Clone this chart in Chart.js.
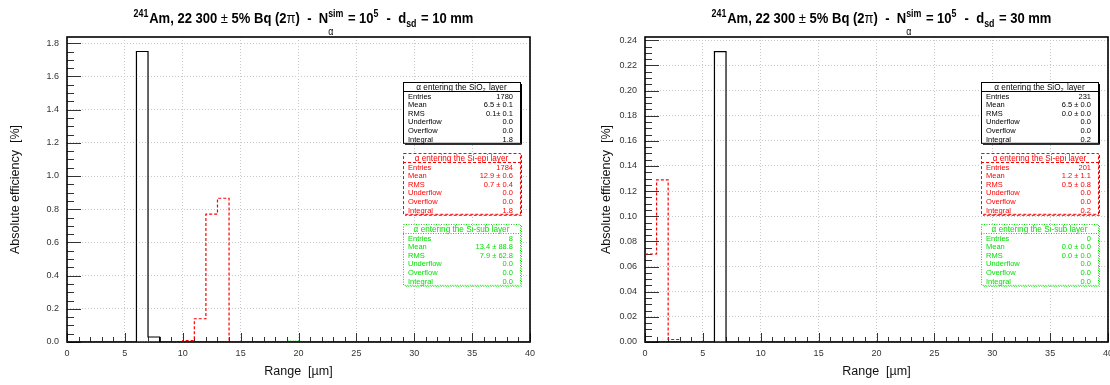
<!DOCTYPE html>
<html>
<head>
<meta charset="utf-8">
<script src="https://cdn.jsdelivr.net/npm/chart.js@4.4.1/dist/chart.umd.min.js"></script>
<style>
  html, body { margin: 0; padding: 0; background: #fff; }
  #wrap { position: relative; width: 1110px; height: 385px; }
  .pad { position: absolute; top: 0; width: 555px; height: 385px; }
</style>
</head>
<body>
<div id="wrap">
  <div class="pad" style="left:0"><canvas id="near" width="555" height="385"></canvas></div>
  <div class="pad" style="left:555px"><canvas id="far" width="555" height="385"></canvas></div>
</div>
<script>
// Bin edges of the range histograms [um], 1 um bins
const rangeEdges = [0, 1, 2, 3, 4, 5, 6, 7, 8, 9, 10, 11, 12, 13, 14, 15, 16, 17, 18, 19, 20,
  21, 22, 23, 24, 25, 26, 27, 28, 29, 30, 31, 32, 33, 34, 35, 36, 37, 38, 39, 40]
const xTicks = [0, 5, 10, 15, 20, 25, 30, 35, 40]
const statLabels = ['Entries', 'Mean', 'RMS', 'Underflow', 'Overflow', 'Integral']

// d_sd = 10 mm
const sio2Near = [0, 0, 0, 0, 0, 0, 1.75, 0.03, 0, 0, 0, 0, 0, 0, 0, 0, 0, 0, 0, 0,
  0, 0, 0, 0, 0, 0, 0, 0, 0, 0, 0, 0, 0, 0, 0, 0, 0, 0, 0, 0]
const epiNear = [0, 0, 0, 0, 0, 0, 0, 0, 0, 0, 0.008, 0.14, 0.77, 0.866, 0, 0, 0, 0, 0, 0,
  0, 0, 0, 0, 0, 0, 0, 0, 0, 0, 0, 0, 0, 0, 0, 0, 0, 0, 0, 0]
const subNear = [0, 0, 0, 0, 0, 0, 0.002, 0, 0, 0, 0, 0, 0, 0, 0, 0, 0, 0, 0, 0.006,
  0, 0, 0, 0, 0, 0, 0, 0, 0, 0, 0, 0, 0, 0, 0, 0, 0, 0, 0, 0]
const yTicksNear = [0, 0.2, 0.4, 0.6, 0.8, 1.0, 1.2, 1.4, 1.6, 1.8]
const sio2NearStats = ['1780', '6.5 ± 0.1', '0.1± 0.1', '0.0', '0.0', '1.8']
const epiNearStats = ['1784', '12.9 ± 0.6', '0.7 ± 0.4', '0.0', '0.0', '1.8']
const subNearStats = ['8', '13.4 ± 88.8', '7.9 ± 62.8', '0.0', '0.0', '0.0']

// d_sd = 30 mm
const sio2Far = [0, 0, 0, 0, 0, 0, 0.231, 0, 0, 0, 0, 0, 0, 0, 0, 0, 0, 0, 0, 0,
  0, 0, 0, 0, 0, 0, 0, 0, 0, 0, 0, 0, 0, 0, 0, 0, 0, 0, 0, 0]
const epiFar = [0.070, 0.129, 0.002, 0, 0, 0, 0, 0, 0, 0, 0, 0, 0, 0, 0, 0, 0, 0, 0, 0,
  0, 0, 0, 0, 0, 0, 0, 0, 0, 0, 0, 0, 0, 0, 0, 0, 0, 0, 0, 0]
const subFar = [0, 0, 0, 0, 0, 0, 0, 0, 0, 0, 0, 0, 0, 0, 0, 0, 0, 0, 0, 0,
  0, 0, 0, 0, 0, 0, 0, 0, 0, 0, 0, 0, 0, 0, 0, 0, 0, 0, 0, 0]
const yTicksFar = [0, 0.02, 0.04, 0.06, 0.08, 0.10, 0.12, 0.14, 0.16, 0.18, 0.20, 0.22, 0.24]
const sio2FarStats = ['231', '6.5 ± 0.0', '0.0 ± 0.0', '0.0', '0.0', '0.2']
const epiFarStats = ['201', '1.2 ± 1.1', '0.5 ± 0.8', '0.0', '0.0', '0.2']
const subFarStats = ['0', '0.0 ± 0.0', '0.0 ± 0.0', '0.0', '0.0', '0.0']

const FONT = "'Liberation Sans', Arial, Helvetica, sans-serif"
const RED = '#ff0000'
const GREEN = '#00e000'

// histogram outline: one point per bin low edge, last edge closes the step
function histPoints (vals) {
  return rangeEdges.map((x, i) => ({ x: x, y: vals[Math.min(i, vals.length - 1)] }))
}

// rich text: runs of {t, bold, sup, sub, supsub}
function drawRich (ctx, runs, cx, base, size) {
  const small = size * 0.68
  const fontOf = (s, b) => (b ? 'bold ' : '') + s + 'px ' + FONT
  const widthOf = r => {
    if (r.supsub) {
      ctx.font = fontOf(small, true)
      const a = ctx.measureText(r.supsub[0]).width
      ctx.font = fontOf(small, false)
      const b = ctx.measureText(r.supsub[1]).width
      return Math.max(a, b) + 1
    }
    ctx.font = fontOf(r.sup || r.sub ? small : size, r.bold)
    return ctx.measureText(r.t).width + (r.sup || r.sub ? 1 : 0)
  }
  const total = runs.reduce((s, r) => s + widthOf(r), 0)
  let x = cx - total / 2
  ctx.textAlign = 'left'
  ctx.textBaseline = 'alphabetic'
  runs.forEach(r => {
    const w = widthOf(r)
    if (r.supsub) {
      ctx.font = fontOf(small, true)
      ctx.fillText(r.supsub[0], x, base - size * 0.42)
      ctx.font = fontOf(small, false)
      ctx.fillText(r.supsub[1], x, base + size * 0.8)
    } else {
      ctx.font = fontOf(r.sup || r.sub ? small : size, r.bold)
      const dy = r.sup ? -size * 0.42 : (r.sub ? size * 0.3 : 0)
      ctx.fillText(r.t, x, base + dy)
    }
    x += w
  })
}

function titleRuns (dist) {
  return [
    { t: '241', bold: true, sup: true },
    { t: 'Am, 22 300', bold: true },
    { t: ' \u00b1 ', bold: false },
    { t: '5% Bq (2', bold: true },
    { t: '\u03c0', bold: false },
    { t: ')  -  N', bold: true },
    { supsub: ['sim', '\u03b1'] },
    { t: ' = 10', bold: true },
    { t: '5', bold: true, sup: true },
    { t: '  -  d', bold: true },
    { t: 'sd', bold: true, sub: true },
    { t: ' = ' + dist + ' mm', bold: true }
  ]
}

function drawStatBox (ctx, right, top, color, dash, header, values) {
  const w = 117
  const headH = 9
  const rowH = 8.55
  const h = headH + rowH * 6 + 0.5
  const x = Math.round(right - w)
  ctx.save()
  ctx.fillStyle = '#fff'
  ctx.fillRect(x, top, w, h)
  ctx.strokeStyle = color
  ctx.lineWidth = 1
  ctx.setLineDash(dash)
  ctx.strokeRect(x + 0.5, top + 0.5, w, h)
  ctx.beginPath()
  ctx.moveTo(x + w + 1.5, top + 2)
  ctx.lineTo(x + w + 1.5, top + h + 1.5)
  ctx.lineTo(x + 2, top + h + 1.5)
  ctx.stroke()
  ctx.beginPath()
  ctx.moveTo(x, top + headH + 0.5)
  ctx.lineTo(x + w, top + headH + 0.5)
  ctx.stroke()
  ctx.setLineDash([])
  ctx.fillStyle = color
  drawRich(ctx, header, x + w / 2, top + 7.5, 8.2)
  ctx.font = '7.5px ' + FONT
  ctx.textBaseline = 'alphabetic'
  statLabels.forEach((lab, i) => {
    const yb = top + headH + 7.8 + i * rowH
    ctx.textAlign = 'left'
    ctx.fillText(lab, x + 5, yb)
    ctx.textAlign = 'right'
    ctx.fillText(values[i], x + w - 7, yb)
  })
  ctx.restore()
}

const headerRuns = {
  sio2: [{ t: '\u03b1 entering the SiO' }, { t: '2', sub: true }, { t: ' layer' }],
  epi: [{ t: '\u03b1 entering the Si-epi layer' }],
  sub: [{ t: '\u03b1 entering the Si-sub layer' }]
}

// frame and inner tick marks under the histograms, title and stat boxes on top
const rootStyle = {
  id: 'rootStyle',
  beforeDatasetsDraw (chart, args, opts) {
    const { ctx, chartArea: a, scales } = chart
    const xs = scales.x
    const ys = scales.y
    ctx.save()
    ctx.strokeStyle = '#333'
    ctx.lineWidth = 1
    ctx.beginPath()
    for (let v = 0; v <= 40; v += 1) {
      const px = Math.round(xs.getPixelForValue(v)) + 0.5
      const len = v % 5 === 0 ? 9 : 5
      ctx.moveTo(px, a.bottom)
      ctx.lineTo(px, a.bottom - len)
    }
    const step = opts.yStep / 4
    const n = Math.round(opts.yMaxTick / step)
    for (let i = 0; i <= n; i++) {
      const py = Math.round(ys.getPixelForValue(i * step)) + 0.5
      const len = i % 4 === 0 ? 14 : 7
      ctx.moveTo(a.left, py)
      ctx.lineTo(a.left + len, py)
    }
    ctx.stroke()
    ctx.strokeStyle = '#000'
    ctx.lineWidth = 1.6
    ctx.strokeRect(a.left, a.top, a.right - a.left, a.bottom - a.top)
    ctx.restore()
  },
  afterDraw (chart, args, opts) {
    const { ctx, chartArea: a } = chart
    ctx.save()
    ctx.fillStyle = '#000'
    // ROOT's bold Helvetica runs narrower than Liberation Sans bold
    ctx.translate((a.left + a.right) / 2 + 5, 0)
    ctx.scale(0.88, 1)
    drawRich(ctx, titleRuns(opts.dist), 0, 23, 14.8)
    ctx.restore()
    const r = a.right - 10
    drawStatBox(ctx, r, 82, '#000', [], headerRuns.sio2, opts.stats[0])
    drawStatBox(ctx, r, 153, RED, [3, 2], headerRuns.epi, opts.stats[1])
    drawStatBox(ctx, r, 224, GREEN, [1, 1.5], headerRuns.sub, opts.stats[2])
  }
}

function makeChart (id, cfg) {
  const datasets = [
    { data: histPoints(cfg.sio2), borderColor: '#000', borderWidth: 1.2, borderDash: [] },
    { data: histPoints(cfg.epi), borderColor: RED, borderWidth: 1.2, borderDash: [3, 2] },
    { data: histPoints(cfg.sub), borderColor: GREEN, borderWidth: 1.2, borderDash: [1, 1.5] }
  ].map(d => Object.assign(d, { stepped: 'before', pointRadius: 0, fill: false }))

  return new Chart(document.getElementById(id), {
    type: 'line',
    data: { datasets: datasets },
    options: {
      responsive: false,
      animation: false,
      layout: { padding: { top: 37, right: cfg.padRight, left: 0, bottom: 0 } },
      plugins: {
        legend: { display: false },
        tooltip: { enabled: false },
        rootStyle: { dist: cfg.dist, stats: cfg.stats, yStep: cfg.yStep, yMaxTick: cfg.yTicks[cfg.yTicks.length - 1] }
      },
      scales: {
        x: {
          type: 'linear',
          min: 0,
          max: 40,
          afterBuildTicks: s => { s.ticks = xTicks.map(v => ({ value: v })) },
          afterFit: s => { s.height = 43; s.paddingLeft = 0; s.paddingRight = 0 },
          ticks: { font: { family: FONT, size: 9 }, color: '#333', padding: 6, maxRotation: 0, autoSkip: false, callback: v => String(v) },
          grid: { color: '#c8c8c8', drawTicks: false, lineWidth: 1 },
          border: { display: false, dash: [1, 2] },
          title: { display: true, text: 'Range  [\u00b5m]', font: { family: FONT, size: 12.5 }, color: '#111', padding: { top: 0, bottom: 5.5 } }
        },
        y: {
          type: 'linear',
          min: 0,
          max: cfg.yMax,
          afterBuildTicks: s => { s.ticks = cfg.yTicks.map(v => ({ value: v })) },
          afterFit: s => { s.width = cfg.yWidth; s.paddingTop = 0; s.paddingBottom = 0 },
          ticks: { font: { family: FONT, size: 9 }, color: '#333', padding: 8, callback: v => v.toFixed(cfg.digits) },
          grid: { color: '#c8c8c8', drawTicks: false, lineWidth: 1 },
          border: { display: false, dash: [1, 2] },
          title: { display: true, text: 'Absolute efficiency  [%]', font: { family: FONT, size: 12.5 }, color: '#111', padding: { top: cfg.yTitlePad, bottom: 0 } }
        }
      }
    },
    plugins: [rootStyle]
  })
}

makeChart('near', {
  sio2: sio2Near, epi: epiNear, sub: subNear, stats: [sio2NearStats, epiNearStats, subNearStats],
  dist: 10, yMax: 1.8375, yTicks: yTicksNear, yStep: 0.2, digits: 1,
  yWidth: 67, yTitlePad: 8.5, padRight: 25
})
makeChart('far', {
  sio2: sio2Far, epi: epiFar, sub: subFar, stats: [sio2FarStats, epiFarStats, subFarStats],
  dist: 30, yMax: 0.2426, yTicks: yTicksFar, yStep: 0.02, digits: 2,
  yWidth: 90, yTitlePad: 44.5, padRight: 2
})
</script>
</body>
</html>
